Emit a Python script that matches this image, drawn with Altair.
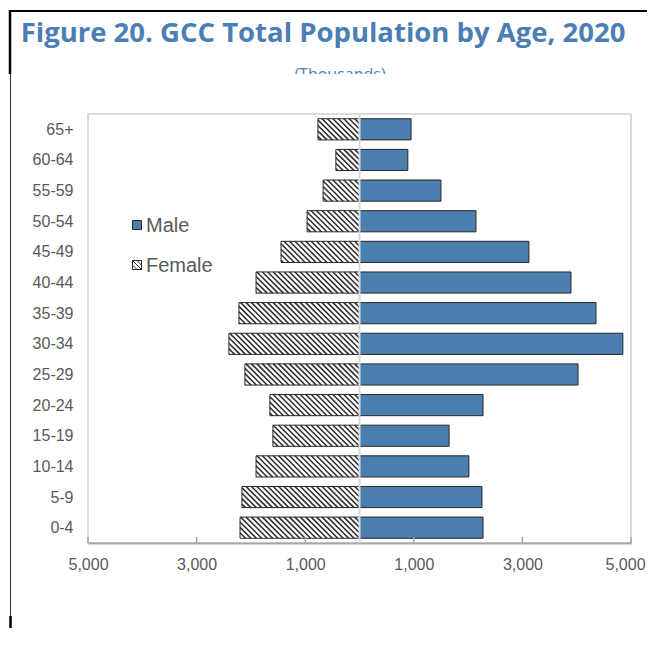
import json
import altair as alt
import pandas as pd

# ---------------- data (thousands) ----------------
age_groups = ["65+", "60-64", "55-59", "50-54", "45-49", "40-44", "35-39",
              "30-34", "25-29", "20-24", "15-19", "10-14", "5-9", "0-4"]
male = [950, 890, 1500, 2145, 3120, 3895, 4355, 4850, 4025, 2275, 1650, 2015, 2255, 2275]
female = [765, 435, 670, 965, 1445, 1905, 2220, 2405, 2110, 1650, 1595, 1905, 2165, 2200]
x_ticks = [-5000, -3000, -1000, 1000, 3000, 5000]
series = ["Male", "Female"]
title_text = "Figure 20. GCC Total Population by Age, 2020"
subtitle_text = "(Thousands)"

# ---------------- styling / layout ----------------
W, H = 543, 429
N = len(age_groups)
HALF = 0.345                      # half bar thickness in band units
BLUE = "#4a7fb0"
EDGE = "#262626"
TXT = "#595959"
TITLE_BLUE = "#4a7eb4"
GRID = "#d0d0d0"
AXIS_GRAY = "#a6a6a6"
FONT = "Liberation Sans"

px_per_unit = W / 10000.0
SPAN = 2 * HALF * (H / N) / px_per_unit   # horizontal span of a 45deg hatch line
STEP = 100                                  # hatch spacing (data units)
START = -STEP * int(SPAN // STEP + 1)

df = pd.DataFrame({
    "age": age_groups,
    "idx": [N - 1 - i for i in range(N)],
    "male": male,
    "female": female,
})

label_expr = json.dumps(list(reversed(age_groups))) + "[datum.value]"

xscale = alt.Scale(domain=[-5000, 5000], nice=False, zero=False)
yscale = alt.Scale(domain=[-0.5, N - 0.5], nice=False, zero=False)

x_axis = alt.Axis(values=x_ticks, labelExpr="format(abs(datum.value), ',')",
                  ticks=False, grid=False, title=None, domainColor=AXIS_GRAY,
                  domainWidth=2, labelPadding=13, labelFontSize=16, labelColor=TXT,
                  labelFont=FONT, labelFlush=False, labelOverlap=False,
                  labelOffset={"condition": {"test": "datum.value == 5000", "value": -6},
                               "value": 0})
y_axis = alt.Axis(values=list(range(N)), labelExpr=label_expr, ticks=False,
                  grid=False, domain=False, title=None, labelPadding=15,
                  labelFontSize=16, labelColor=TXT, labelFont=FONT,
                  labelOverlap=False, labelBound=False)

base = alt.Chart(df).transform_calculate(
    y0=f"datum.idx - {HALF}",
    y1=f"datum.idx + {HALF}",
    fx="-datum.female",
    zero="0",
)

male_bars = base.mark_rect(fill=BLUE, stroke=EDGE, strokeWidth=1).encode(
    x=alt.X("zero:Q", scale=xscale, axis=x_axis),
    x2="male:Q",
    y=alt.Y("y0:Q", scale=yscale, axis=y_axis),
    y2="y1:Q",
)

female_fill = base.mark_rect(fill="white", stroke=None).encode(
    x=alt.X("fx:Q", scale=xscale, axis=x_axis), x2="zero:Q",
    y=alt.Y("y0:Q", scale=yscale, axis=y_axis), y2="y1:Q",
)

hatch = alt.Chart(df).transform_calculate(
    offs=f"sequence({START}, datum.female, {STEP})"
).transform_flatten(["offs"]).transform_calculate(
    t0=f"max(0, -datum.offs / {SPAN})",
    t1=f"min(1, (datum.female - datum.offs) / {SPAN})",
).transform_filter("datum.t1 > datum.t0").transform_calculate(
    xa=f"-(datum.offs + datum.t0 * {SPAN})",
    xb=f"-(datum.offs + datum.t1 * {SPAN})",
    ya=f"datum.idx - {HALF} + datum.t0 * {2 * HALF}",
    yb=f"datum.idx - {HALF} + datum.t1 * {2 * HALF}",
).mark_rule(color="#2a2a2a", strokeWidth=1.5, strokeCap="butt").encode(
    x=alt.X("xa:Q", scale=xscale, axis=x_axis), x2="xb:Q",
    y=alt.Y("ya:Q", scale=yscale, axis=y_axis), y2="yb:Q",
)

female_edge = base.mark_rect(fill=None, stroke=EDGE, strokeWidth=1).encode(
    x=alt.X("fx:Q", scale=xscale, axis=x_axis), x2="zero:Q",
    y=alt.Y("y0:Q", scale=yscale, axis=y_axis), y2="y1:Q",
)

one = pd.DataFrame({"k": [0]})

center_line = alt.Chart(one).mark_rule(color="#d9d9d9", strokeWidth=2).encode(
    x=alt.datum(0, scale=xscale, axis=x_axis), y=alt.value(0), y2=alt.value(H)
)

tick_df = pd.DataFrame({"t": x_ticks})
inner_ticks = alt.Chart(tick_df).mark_rule(color=AXIS_GRAY, strokeWidth=1.5).encode(
    x=alt.X("t:Q", scale=xscale, axis=x_axis), y=alt.value(H - 6), y2=alt.value(H)
)

# ---------------- legend ----------------
leg = pd.DataFrame({"series": series})
male_sym = alt.Chart(leg).transform_filter("datum.series == 'Male'").mark_point(
    shape="square", filled=True, fill=BLUE, stroke=EDGE, strokeWidth=1, size=81, opacity=1
).encode(x=alt.value(49), y=alt.value(111))
female_sym = alt.Chart(leg).transform_filter("datum.series == 'Female'").mark_point(
    shape="M-1,-1H1V1H-1Z M-1,0L0,1 M-1,-1L1,1 M0,-1L1,0",
    filled=False, fill="white", stroke=EDGE, strokeWidth=1, size=81, opacity=1
).encode(x=alt.value(49), y=alt.value(151))
male_txt = alt.Chart(leg).transform_filter("datum.series == 'Male'").mark_text(
    align="left", baseline="middle", fontSize=20, font=FONT, color=TXT
).encode(x=alt.value(58), y=alt.value(112), text="series:N")
female_txt = alt.Chart(leg).transform_filter("datum.series == 'Female'").mark_text(
    align="left", baseline="middle", fontSize=20, font=FONT, color=TXT
).encode(x=alt.value(58), y=alt.value(152), text="series:N")

# ---------------- title block and frame ----------------
ttl = pd.DataFrame({"title": [title_text], "sub": [subtitle_text]})
title_mark = alt.Chart(ttl).mark_text(
    align="center", baseline="middle", fontSize=27.5, font="Open Sans",
    fontWeight="bold", color=TITLE_BLUE
).encode(x=alt.value(235), y=alt.value(-80), text="title:N")
sub_mark = alt.Chart(ttl).mark_text(
    align="center", baseline="alphabetic", fontSize=16, font="Open Sans",
    color=TITLE_BLUE
).encode(x=alt.value(252), y=alt.value(-34), text="sub:N")
cover = alt.Chart(one).mark_rect(fill="white").encode(
    x=alt.value(-77), x2=alt.value(560), y=alt.value(-40), y2=alt.value(-16)
)


def rule(x, x2, y, y2, w, c="black"):
    return alt.Chart(one).mark_rule(color=c, strokeWidth=w, strokeCap="butt").encode(
        x=alt.value(x), x2=alt.value(x2), y=alt.value(y), y2=alt.value(y2)
    )


frame = [
    rule(-79, 560, -103, -103, 2),
    rule(-78, -78, -104, -40, 2.5),
    rule(-77.5, -77.5, -40, 502, 1, "#333333"),
    rule(-77.5, -77.5, 502, 540, 2.5),
]

chart = alt.layer(
    title_mark, sub_mark, cover, *frame,
    male_bars, female_fill, hatch, female_edge, center_line, inner_ticks,
    male_sym, female_sym, male_txt, female_txt,
).properties(
    width=W, height=H,
    autosize=alt.AutoSizeParams(type="none"),
    padding={"left": 80, "top": 106, "right": 16, "bottom": 85},
).configure_view(stroke=GRID, strokeWidth=1.5).configure_axis(labelOverlap=False)

chart.save("out.html", embed_options={"renderer": "svg", "actions": False})
